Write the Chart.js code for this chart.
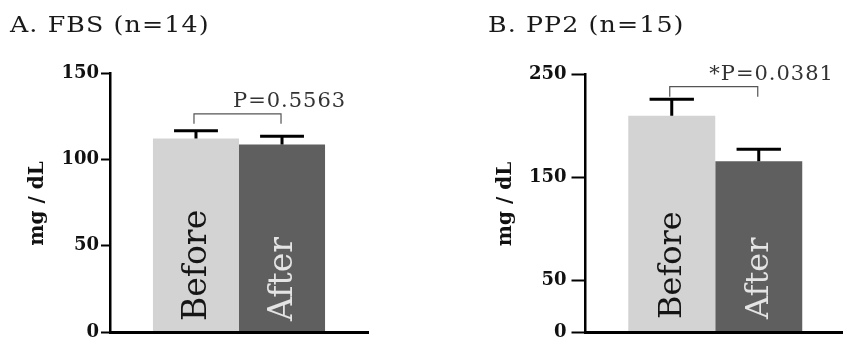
<!DOCTYPE html>
<html><head><meta charset="utf-8">
<script src="https://cdn.jsdelivr.net/npm/chart.js@4/dist/chart.umd.min.js"></script>
<style>
html,body{margin:0;padding:0;background:#fff;}
#wrap{position:relative;width:843px;height:338px;overflow:hidden;background:#fff;}
canvas{position:absolute;top:0;}
</style></head><body>
<div id="wrap">
<canvas id="cA" width="421" height="338" style="left:0;width:421px;height:338px"></canvas>
<canvas id="cB" width="425" height="338" style="left:421px;width:425px;height:338px"></canvas>
</div>
<script>
// ---- data ----
const groups = ['Before', 'After'];
const fbsMean = [112.0, 108.6];
const fbsSE = [4.6, 4.7];
const pp2Mean = [209.6, 165.5];
const pp2SE = [15.9, 11.6];
const fbsTicks = [0, 50, 100, 150];
const pp2Ticks = [0, 50, 150, 250];
const fbsTitle = 'A. FBS (n=14)';
const pp2Title = 'B. PP2 (n=15)';
const fbsP = 'P=0.5563';
const pp2P = '*P=0.0381';
const yTitle = 'mg / dL';

const barColors = ['#d3d3d3', '#5f5f5f'];
const labelColors = ['#151515', '#e4e4e4'];
const SERIF = '"DejaVu Serif", "Liberation Serif", serif';

const annot = {
  id: 'annot',
  afterDatasetsDraw(chart, args, o) {
    const ctx = chart.ctx;
    const y = chart.scales.y;
    const area = chart.chartArea;
    const els = chart.data.datasets.map((d, i) => chart.getDatasetMeta(i).data[0]);
    ctx.save();
    // bar labels (rotated)
    els.forEach((el, i) => {
      ctx.save();
      ctx.translate(el.x, y.getPixelForValue(0) - o.labelOffset);
      ctx.rotate(-Math.PI / 2);
      ctx.font = o.labelSize + 'px ' + SERIF;
      ctx.fillStyle = labelColors[i];
      ctx.textAlign = 'left';
      ctx.textBaseline = 'middle';
      ctx.fillText(groups[i], 0, 1);
      ctx.restore();
    });
    // error bars
    ctx.strokeStyle = '#000';
    ctx.lineWidth = 3;
    o.means.forEach((m, i) => {
      const el = els[i];
      const top = y.getPixelForValue(m + o.se[i]);
      const base = y.getPixelForValue(m);
      ctx.beginPath();
      ctx.moveTo(el.x, base);
      ctx.lineTo(el.x, top);
      ctx.moveTo(el.x - el.width * 0.255, top);
      ctx.lineTo(el.x + el.width * 0.255, top);
      ctx.stroke();
    });
    // bracket
    const bt = y.getPixelForValue(o.bracketTop);
    const bl = y.getPixelForValue(o.bracketLeg);
    ctx.strokeStyle = '#555';
    ctx.lineWidth = 1.2;
    ctx.beginPath();
    ctx.moveTo(els[0].x - 2, bl);
    ctx.lineTo(els[0].x - 2, bt);
    ctx.lineTo(els[1].x - 1, bt);
    ctx.lineTo(els[1].x - 1, bl);
    ctx.stroke();
    // p text
    const cx = (els[0].x + els[1].x) / 2;
    ctx.font = '21px ' + SERIF;
    ctx.letterSpacing = '1px';
    ctx.fillStyle = '#333';
    ctx.textAlign = 'left';
    ctx.textBaseline = 'alphabetic';
    ctx.fillText(o.pText, cx - 6, bt - 7);
    ctx.letterSpacing = '0px';
    // title (slightly widened serif)
    ctx.save();
    ctx.translate(o.titleX, 32);
    ctx.scale(1.1, 1);
    ctx.font = '23px ' + SERIF;
    ctx.letterSpacing = '1px';
    ctx.fillStyle = '#1a1a1a';
    ctx.fillText(o.title, 0, 0);
    ctx.restore();
    // y title
    ctx.save();
    ctx.translate(o.yTitleX, (area.top + area.bottom) / 2 + 1);
    ctx.rotate(-Math.PI / 2);
    ctx.font = 'bold 20px ' + SERIF;
    ctx.fillStyle = '#111';
    ctx.textAlign = 'center';
    ctx.textBaseline = 'middle';
    ctx.fillText(yTitle, 0, 0);
    ctx.restore();
    ctx.restore();
  }
};

function makeChart(id, c) {
  return new Chart(document.getElementById(id), {
    type: 'bar',
    data: {
      labels: [c.category],
      datasets: groups.map((g, i) => ({
        label: g, data: [c.means[i]], backgroundColor: barColors[i], borderWidth: 0
      }))
    },
    options: {
      responsive: false, animation: false, devicePixelRatio: 1,
      layout: { padding: { left: 0, top: c.top, right: c.padRight, bottom: 6 } },
      datasets: { bar: { categoryPercentage: c.catPct, barPercentage: 1 } },
      plugins: {
        legend: { display: false }, tooltip: { enabled: false }, title: { display: false },
        annot: {
          means: c.means, se: c.se, bracketTop: c.bracketTop, bracketLeg: c.bracketLeg,
          pText: c.pText, title: c.title, titleX: c.titleX, yTitleX: c.yTitleX,
          labelSize: c.labelSize, labelOffset: c.labelOffset
        }
      },
      scales: {
        x: {
          display: true, offset: true,
          ticks: { display: false },
          grid: { display: false, drawTicks: false },
          border: { display: true, color: '#000', width: 3, z: 1 },
          afterFit(s) { s.height = 0; s.paddingLeft = 0; s.paddingRight = 0; }
        },
        y: {
          min: 0, max: c.ticks[c.ticks.length - 1],
          afterBuildTicks(s) { s.ticks = c.ticks.map(v => ({ value: v })); },
          ticks: { font: { family: SERIF, weight: 'bold', size: 18 }, color: '#111', padding: c.tickPad },
          grid: { display: true, drawOnChartArea: false, drawTicks: true, tickLength: c.tickLen, tickColor: '#000', tickWidth: 2 },
          border: { display: true, color: '#000', width: 2.5, z: 1 },
          afterFit(s) { s.width = c.axisX; s.paddingTop = 0; s.paddingBottom = 0; }
        }
      }
    },
    plugins: [annot]
  });
}

makeChart('cA', {
  category: 'FBS', means: fbsMean, se: fbsSE, ticks: fbsTicks,
  top: 73, padRight: 53, axisX: 110, catPct: 0.667, tickPad: 2, tickLen: 9,
  bracketTop: 126.3, bracketLeg: 120.6, pText: fbsP, title: fbsTitle, titleX: 10, yTitleX: 38,
  labelSize: 33, labelOffset: 11
});
makeChart('cB', {
  category: 'PP2', means: pp2Mean, se: pp2SE, ticks: pp2Ticks,
  top: 74, padRight: 1, axisX: 164.5, catPct: 0.6705, tickPad: 5, tickLen: 14,
  bracketTop: 237.7, bracketLeg: 228, pText: pp2P, title: pp2Title, titleX: 67, yTitleX: 85,
  labelSize: 32, labelOffset: 13
});
</script>
</body></html>
